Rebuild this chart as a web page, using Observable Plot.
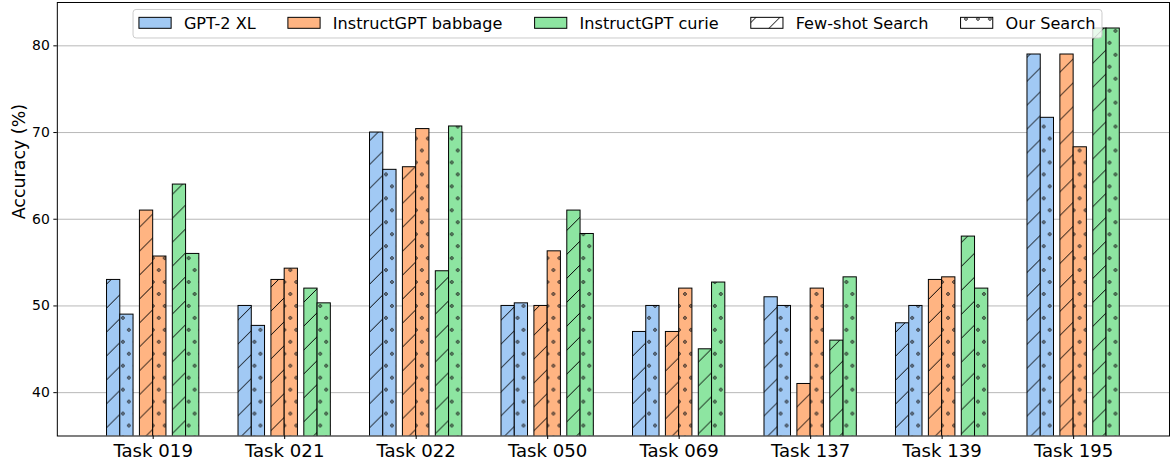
<!DOCTYPE html>
<html>
<head>
<meta charset="utf-8">
<script src="https://cdn.jsdelivr.net/npm/d3@7"></script>
<script src="https://cdn.jsdelivr.net/npm/@observablehq/plot@0.6"></script>
<style>
  html, body { margin: 0; padding: 0; background: #fff; }
  #wrap { position: relative; width: 1172px; height: 464px; overflow: hidden; font-family: "DejaVu Sans", sans-serif; }
  #wrap svg { display: block; }
</style>
</head>
<body>
<div id="wrap"></div>
<script>
// ---- data ----
const tasks = ["Task 019", "Task 021", "Task 022", "Task 050", "Task 069", "Task 137", "Task 139", "Task 195"];
const models = ["GPT-2 XL", "InstructGPT babbage", "InstructGPT curie"];
const searches = ["Few-shot Search", "Our Search"];
const gpt2Few      = [53, 50,   70,   50,   47,   51,   48,   79];
const gpt2Ours     = [49, 47.7, 65.7, 50.3, 50,   50,   50,   71.7];
const babbageFew   = [61, 53,   66,   50,   47,   41,   53,   79];
const babbageOurs  = [55.7, 54.3, 70.4, 56.3, 52, 52, 53.3, 68.3];
const curieFew     = [64, 52,   54,   61,   45,   46,   58,   82];
const curieOurs    = [56, 50.3, 70.7, 58.3, 52.7, 53.3, 52,  82];
const yTicks = [40, 50, 60, 70, 80];
const yDomain = [35, 85];

const series = [
  {model: 0, search: 0, values: gpt2Few},
  {model: 0, search: 1, values: gpt2Ours},
  {model: 1, search: 0, values: babbageFew},
  {model: 1, search: 1, values: babbageOurs},
  {model: 2, search: 0, values: curieFew},
  {model: 2, search: 1, values: curieOurs}
];

// ---- layout / style ----
const colors = ["#a1c9f4", "#ffb482", "#8de5a1"];
const W = 1176, H = 464, ML = 57, MR = 3, MT = 2, MB = 27;
const PI = 0.298, PO = 0.378;
const band = d3.scaleBand().domain(tasks).range([ML, W - MR]).paddingInner(PI).paddingOuter(PO);
const B = band.bandwidth();
const GAP = 6.4;
const BW = (B - 2 * GAP) / 6;
const patId = (m, s) => `pat-${m}-${s}`;

const barMarks = series.map(sr => {
  const rows = tasks.map((t, i) => ({task: t, value: sr.values[i]}));
  const off = sr.model * (2 * BW + GAP) + sr.search * BW;
  return Plot.barY(rows, {
    x: "task", y: "value",
    fill: `url(#${patId(sr.model, sr.search)})`,
    stroke: "black", strokeWidth: 1,
    insetLeft: off, insetRight: B - off - BW,
    clip: true
  });
});

const chart = Plot.plot({
  width: W, height: H,
  marginLeft: ML, marginRight: MR, marginTop: MT, marginBottom: MB,
  style: {fontFamily: "DejaVu Sans, sans-serif", color: "black", background: "white"},
  x: {domain: tasks, paddingInner: PI, paddingOuter: PO, round: false, label: null},
  y: {domain: yDomain, label: null},
  marks: [
    Plot.gridY(yTicks, {stroke: "#b0b0b0", strokeOpacity: 1, strokeWidth: 0.9}),
    ...barMarks,
    Plot.frame({stroke: "black", strokeWidth: 1}),
    Plot.axisX({tickSize: 3.5, tickPadding: 4.5, fontSize: 18.2, label: null}),
    Plot.axisY(yTicks, {tickSize: 3.5, tickPadding: 4, fontSize: 14, label: null}),
    Plot.text(["Accuracy (%)"], {frameAnchor: "left", text: d => d, rotate: -90, dx: -38, fontSize: 17.5, fill: "black"})
  ]
});

document.getElementById("wrap").appendChild(chart);

// ---- hatch patterns ----
const svg = d3.select(chart);
const defs = svg.insert("defs", ":first-child");
function addPatterns(id, bg, s) {
  if (s === 0) {
    const p = defs.append("pattern").attr("id", id).attr("patternUnits", "userSpaceOnUse")
      .attr("width", 24).attr("height", 24).attr("x", 5).attr("y", 3);
    p.append("rect").attr("width", 24).attr("height", 24).attr("fill", bg);
    p.append("path").attr("d", "M0,24 L24,0 M-6,6 L6,-6 M18,30 L30,18")
      .attr("stroke", "black").attr("stroke-width", 1).attr("fill", "none");
  } else {
    const p = defs.append("pattern").attr("id", id).attr("patternUnits", "userSpaceOnUse")
      .attr("width", 12).attr("height", 24).attr("x", 3.3).attr("y", 7);
    p.append("rect").attr("width", 12).attr("height", 24).attr("fill", bg);
    [[0,0],[12,0],[0,24],[12,24],[6,12]].forEach(([cx, cy]) =>
      p.append("circle").attr("cx", cx).attr("cy", cy).attr("r", 1.35)
        .attr("fill", "none").attr("stroke", "#1a1a1a").attr("stroke-width", 1));
  }
}
colors.forEach((c, m) => { addPatterns(patId(m, 0), c, 0); addPatterns(patId(m, 1), c, 1); });
addPatterns("pat-w-0", "white", 0);
addPatterns("pat-w-1", "white", 1);

// ---- legend (drawn on top, inside the axes) ----
const lg = svg.append("g").attr("font-family", "DejaVu Sans, sans-serif").attr("font-size", 16.2)
  .attr("text-anchor", "start");
const box = lg.append("rect").attr("x", 133.5).attr("y", 9.5).attr("height", 28.6).attr("rx", 3)
  .attr("fill", "white").attr("fill-opacity", 0.8).attr("stroke", "#cccccc").attr("stroke-width", 1);
const entries = [
  {label: models[0], fill: colors[0]},
  {label: models[1], fill: colors[1]},
  {label: models[2], fill: colors[2]},
  {label: searches[0], fill: "url(#pat-w-0)"},
  {label: searches[1], fill: "url(#pat-w-1)"}
];
let x = 139.4;
entries.forEach(e => {
  lg.append("rect").attr("x", x).attr("y", 17.4).attr("width", 32.3).attr("height", 11)
    .attr("fill", e.fill).attr("stroke", "black").attr("stroke-width", 1);
  const t = lg.append("text").attr("x", x + 32.3 + 12.8).attr("y", 29).attr("fill", "black")
    .attr("text-anchor", "start").text(e.label);
  x = x + 32.3 + 12.8 + t.node().getComputedTextLength() + 32.3;
});
box.attr("width", x - 32.3 + 6.4 - 133.5);
</script>
</body>
</html>
